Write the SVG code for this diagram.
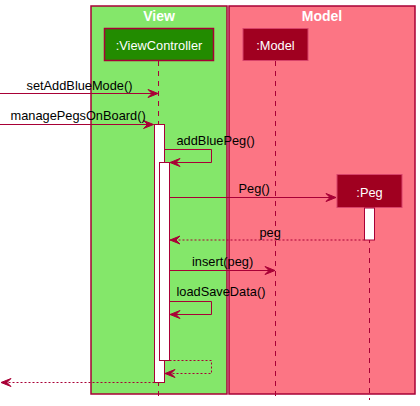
<svg xmlns="http://www.w3.org/2000/svg" width="420" height="406" viewBox="0 0 420 406">
<style>
text{font-family:"Liberation Sans",Arial,sans-serif;font-size:12.8px;fill:#000}
.title{font-weight:bold;font-size:14px;fill:#fff}
.pt{fill:#fff}
.ln{stroke:#A80036;stroke-width:1;fill:none}
.dash{stroke:#A80036;stroke-width:1;fill:none;stroke-dasharray:2,2}
.life{stroke:#A80036;stroke-width:1;stroke-dasharray:5,5}
.act{fill:#fff;stroke:#A80036;stroke-width:1}
</style>
<defs>
<marker id="arr" markerWidth="12" markerHeight="10" refX="11" refY="5" orient="auto" markerUnits="userSpaceOnUse">
<polygon points="1,1 11,5 1,9 5,5" fill="#A80036" stroke="#A80036" stroke-width="1"/>
</marker>
</defs>
<rect width="420" height="406" fill="#fff"/>
<g id="View">
<rect x="91" y="6" width="136" height="388" fill="#84E76A" stroke="#A80036" stroke-width="1.5"/>
<text class="title" x="159" y="21" text-anchor="middle">View</text>
</g>
<g id="Model">
<rect x="229" y="6" width="186" height="388" fill="#FC7584" stroke="#A80036" stroke-width="1.5"/>
<text class="title" x="322" y="21" text-anchor="middle">Model</text>
</g>
<g id="lifelines">
<line class="life" x1="158.5" y1="61" x2="158.5" y2="398"/>
<line class="life" x1="275.5" y1="61" x2="275.5" y2="398"/>
<line class="life" x1="369.5" y1="208" x2="369.5" y2="400"/>
</g>
<g id="ViewController">
<rect x="104.5" y="28.5" width="109" height="32" fill="#228B00" stroke="#A80036" stroke-width="1.5"/>
<text class="pt" x="159" y="49.5" text-anchor="middle">:ViewController</text>
</g>
<g id="ModelParticipant">
<rect x="243" y="28.5" width="65" height="32" fill="#A00020" stroke="#D8436A" stroke-width="1"/>
<text class="pt" x="275.5" y="49.5" text-anchor="middle">:Model</text>
</g>
<g id="Peg">
<rect x="337" y="174.5" width="65" height="33" fill="#A00020" stroke="#D8436A" stroke-width="1"/>
<text class="pt" x="369.5" y="196.5" text-anchor="middle">:Peg</text>
</g>
<g id="activations">
<rect class="act" x="154.5" y="124.5" width="10" height="258"/>
<rect class="act" x="159.5" y="162.5" width="10" height="198"/>
<rect class="act" x="364.5" y="208" width="10" height="32"/>
</g>
<g id="connectors">
<line class="ln" x1="0" y1="93.5" x2="158" y2="93.5" marker-end="url(#arr)"/>
<line class="ln" x1="0" y1="124.5" x2="153.5" y2="124.5" marker-end="url(#arr)"/>
<polyline class="ln" points="164.5,149.5 211.5,149.5 211.5,162.5 170,162.5" marker-end="url(#arr)"/>
<line class="ln" x1="169.5" y1="197.5" x2="336" y2="197.5" marker-end="url(#arr)"/>
<line class="dash" x1="364.5" y1="240" x2="170" y2="240" marker-end="url(#arr)"/>
<line class="ln" x1="169.5" y1="270.5" x2="275" y2="270.5" marker-end="url(#arr)"/>
<polyline class="ln" points="169.5,301.5 211.5,301.5 211.5,314.5 170,314.5" marker-end="url(#arr)"/>
<polyline class="dash" points="169.5,360.5 211.5,360.5 211.5,373.5 165,373.5" marker-end="url(#arr)"/>
<line class="dash" x1="154.5" y1="382.5" x2="1" y2="382.5" marker-end="url(#arr)"/>
</g>
<g id="labels">
<text x="26.5" y="89.5">setAddBlueMode()</text>
<text x="10.5" y="119.5">managePegsOnBoard()</text>
<text x="176.5" y="145">addBluePeg()</text>
<text x="238.5" y="193">Peg()</text>
<text x="259.5" y="236.5">peg</text>
<text x="192" y="265.5">insert(peg)</text>
<text x="176.5" y="296">loadSaveData()</text>
</g>
</svg>
